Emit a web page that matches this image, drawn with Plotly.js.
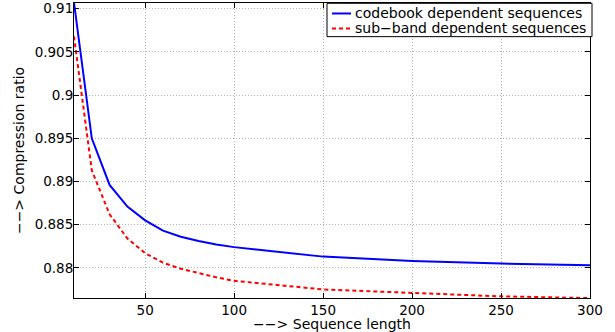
<!DOCTYPE html>
<html>
<head>
<meta charset="utf-8">
<script src="https://cdn.plot.ly/plotly-3.0.1.min.js"></script>
<style>html,body{margin:0;padding:0;background:#fff;}#chart{width:615px;height:332px;}</style>
</head>
<body>
<div id="chart"></div>
<script>
var seqLength = [10, 20, 30, 40, 50, 60, 70, 80, 90, 100, 150, 200, 250, 300];
var codebookRatio = [0.9107, 0.8950, 0.8896, 0.8871, 0.8855, 0.8843, 0.8836, 0.8831, 0.8827, 0.8824, 0.8813, 0.8808, 0.8805, 0.8803];
var subbandRatio = [0.9068, 0.8913, 0.8862, 0.8834, 0.8817, 0.8806, 0.8799, 0.8794, 0.8789, 0.8785, 0.8775, 0.8771, 0.8767, 0.8765];
var seriesNames = ["codebook dependent sequences", "sub\u2212band dependent sequences"];
var xTickVals = [50, 100, 150, 200, 250, 300];
var yTickVals = [0.88, 0.885, 0.89, 0.895, 0.9, 0.905, 0.91];
var yTickText = ["0.88", "0.885", "0.89", "0.895", "0.9", "0.905", "0.91"];
var xTitle = "\u2212\u2212> Sequence length";
var yTitle = "\u2212\u2212> Compression ratio";

var font = {family: "DejaVu Sans, Arial, sans-serif", size: 14, color: "#000"};
var tickFont = {family: "DejaVu Sans, Arial, sans-serif", size: 13.5, color: "#000"};
var colors = ["#0000ff", "#ff0000"];
var dashes = ["solid", "4px,3px"];

var traces = [
  {x: seqLength, y: codebookRatio, name: seriesNames[0], type: "scatter", mode: "lines",
   line: {color: colors[0], width: 2, dash: dashes[0]}},
  {x: seqLength, y: subbandRatio, name: seriesNames[1], type: "scatter", mode: "lines",
   line: {color: colors[1], width: 2, dash: dashes[1]}}
];

// Plot area geometry (pixels) for the legend box drawn in paper coordinates
var W = 615, H = 332, mL = 74, mR = 25, mT = 3, mB = 33.5;
var pw = W - mL - mR, ph = H - mT - mB;
function px(x) { return (x - mL) / pw; }
function py(y) { return (H - mB - y) / ph; }

var shapes = [
  {type: "rect", xref: "paper", yref: "paper", x0: px(327), x1: px(592), y0: py(36.7), y1: py(3.3),
   line: {color: "#000", width: 1}, fillcolor: "#fff", layer: "above"}
];
var annotations = [];
var rowY = [13.5, 28.5];
for (var i = 0; i < seriesNames.length; i++) {
  shapes.push({type: "line", xref: "paper", yref: "paper", x0: px(332), x1: px(351),
    y0: py(rowY[i]), y1: py(rowY[i]), line: {color: colors[i], width: 2, dash: dashes[i]}, layer: "above"});
  annotations.push({xref: "paper", yref: "paper", x: px(353), y: py(rowY[i]), xanchor: "left", yanchor: "middle",
    text: seriesNames[i], showarrow: false, font: font});
}

var axisCommon = {
  showline: true, linecolor: "#000", linewidth: 1, mirror: "ticks",
  ticks: "inside", ticklen: 5, tickcolor: "#000", tickwidth: 1,
  showgrid: true, gridcolor: "#b0b0b0", griddash: "1px,2px", gridwidth: 1,
  zeroline: false, tickfont: tickFont, automargin: false
};

var layout = {
  width: W, height: H,
  margin: {l: mL, r: mR, t: mT, b: mB},
  paper_bgcolor: "#fff", plot_bgcolor: "#fff",
  font: font,
  showlegend: false,
  shapes: shapes,
  annotations: annotations,
  xaxis: Object.assign({}, axisCommon, {
    range: [10, 300], tickmode: "array", tickvals: xTickVals,
    title: {text: xTitle, font: font, standoff: 0}
  }),
  yaxis: Object.assign({}, axisCommon, {
    range: [0.87651, 0.91066], tickmode: "array", tickvals: yTickVals, ticktext: yTickText,
    ticklabelstandoff: -3,
    title: {text: yTitle, font: font, standoff: 6}
  })
};

Plotly.newPlot("chart", traces, layout, {displayModeBar: false, staticPlot: true});
</script>
</body>
</html>
